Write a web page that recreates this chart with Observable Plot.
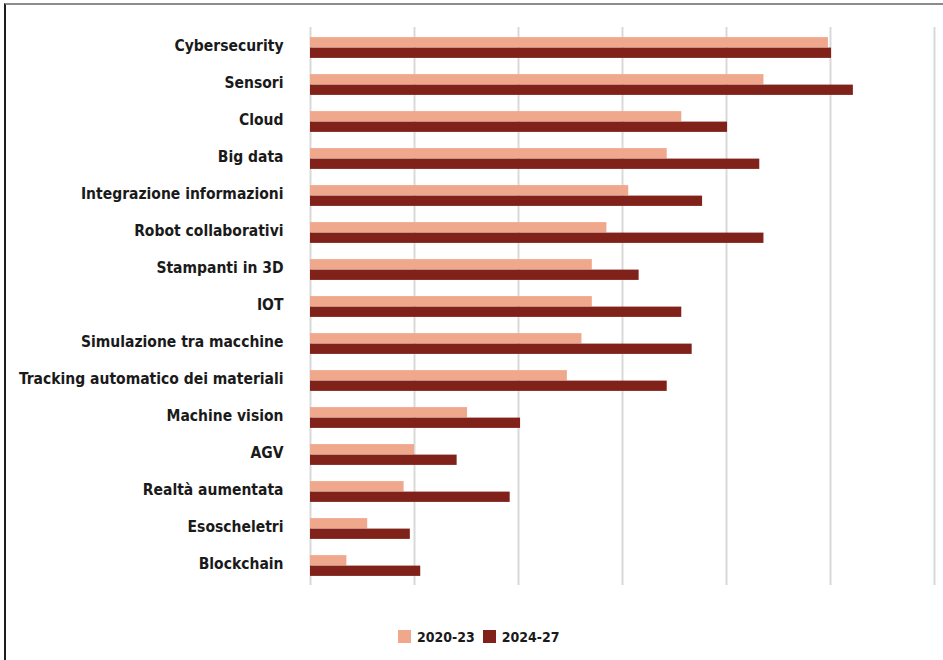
<!DOCTYPE html>
<html>
<head>
<meta charset="utf-8">
<script src="https://cdn.jsdelivr.net/npm/d3@7"></script>
<script src="https://cdn.jsdelivr.net/npm/@observablehq/plot@0.6"></script>
<style>
  html, body { margin: 0; padding: 0; background: #fff; }
  #wrap { position: relative; width: 943px; height: 660px; overflow: hidden; }
  #frame { position: absolute; left: 4px; top: 3px; width: 960px; height: 700px;
           border-left: 2px solid #1e1e1e; border-top: 2px solid #8c8c8c; pointer-events: none; }
  #chart { position: absolute; left: 0; top: 0; }
  #legend { position: absolute; left: 398px; top: 620px; }
  .lg-swatch { margin-right: 8px !important; }
  .lg-swatch > svg { margin-right: 6px !important; }
</style>
</head>
<body>
<div id="wrap">
  <div id="frame"></div>
  <div id="chart"></div>
  <div id="legend"></div>
</div>
<script>
const categories = [
  "Cybersecurity", "Sensori", "Cloud", "Big data", "Integrazione informazioni",
  "Robot collaborativi", "Stampanti in 3D", "IOT", "Simulazione tra macchine",
  "Tracking automatico dei materiali", "Machine vision", "AGV", "Realtà aumentata",
  "Esoscheletri", "Blockchain"
];
const series = ["2020-23", "2024-27"];
const values2020 = [49.8, 43.6, 35.7, 34.3, 30.6, 28.5, 27.1, 27.1, 26.1, 24.7, 15.1, 10.0, 9.0, 5.5, 3.5];
const values2024 = [50.1, 52.2, 40.1, 43.2, 37.7, 43.6, 31.6, 35.7, 36.7, 34.3, 20.2, 14.1, 19.2, 9.6, 10.6];
const gridTicks = [0, 10, 20, 30, 40, 50, 60];
const colors = ["#F0A88C", "#80211A"];

const data2020 = categories.map((c, i) => ({category: c, series: series[0], value: values2020[i]}));
const data2024 = categories.map((c, i) => ({category: c, series: series[1], value: values2024[i]}));

const font = "'DejaVu Sans Condensed', 'DejaVu Sans', sans-serif";

const chart = Plot.plot({
  width: 943,
  height: 600,
  marginTop: 27,
  marginBottom: 15,
  marginLeft: 310,
  marginRight: 9,
  style: {fontFamily: font, fontSize: "15.5px", color: "#1a1a1a", background: "transparent"},
  x: {domain: [0, 60], axis: null},
  y: {domain: categories, padding: 0, tickSize: 0, tickPadding: 27, label: null},
  color: {domain: series, range: colors},
  marks: [
    Plot.ruleX(gridTicks, {stroke: "#d9d9d9", strokeWidth: 2}),
    Plot.barX(data2020, {x: "value", y: "category", fill: "series", insetTop: 8.1, insetBottom: 18.6}),
    Plot.barX(data2024, {x: "value", y: "category", fill: "series", insetTop: 18.6, insetBottom: 8.1})
  ]
});
chart.querySelectorAll("g[aria-label='y-axis tick label'] text, g[aria-label='y-axis'] text").forEach(t => {
  t.setAttribute("font-weight", "bold");
  t.setAttribute("dy", "-0.15em");
});
document.getElementById("chart").appendChild(chart);

const legend = Plot.legend({
  color: {domain: series, range: colors},
  className: "lg",
  swatchSize: 13,
  style: {fontFamily: font, fontSize: "14px", fontWeight: "bold", color: "#1a1a1a"}
});
document.getElementById("legend").appendChild(legend);
</script>
</body>
</html>
